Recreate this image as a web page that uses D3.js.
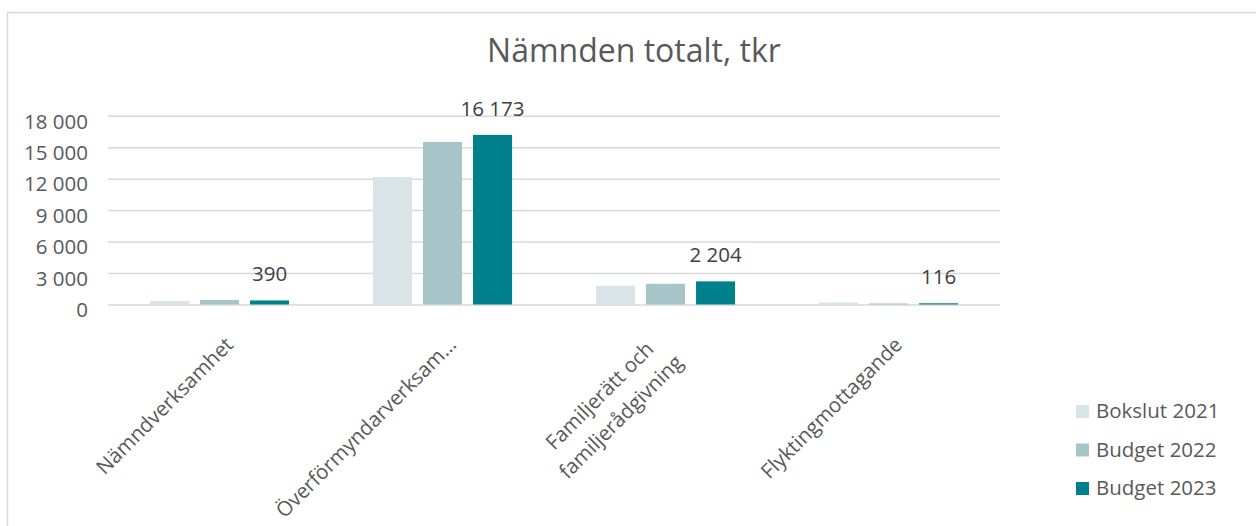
<!DOCTYPE html>
<html>
<head>
<meta charset="utf-8">
<script src="https://cdn.jsdelivr.net/npm/d3@7"></script>
<style>
  html, body { margin: 0; padding: 0; background: #fff; }
  svg { display: block; font-family: "Open Sans", sans-serif; }
</style>
</head>
<body>
<svg id="chart" width="1256" height="526"></svg>
<script>
const title = "Nämnden totalt, tkr";
const categories = ["Nämndverksamhet", "Överförmyndarverksam…", "Familjerätt och\nfamiljerådgivning", "Flyktingmottagande"];
const seriesNames = ["Bokslut 2021", "Budget 2022", "Budget 2023"];
const bokslut2021 = [330, 12150, 1780, 190];
const budget2022 = [430, 15500, 1970, 100];
const budget2023 = [390, 16173, 2204, 116];
const yTicks = [0, 3000, 6000, 9000, 12000, 15000, 18000];
const colors = ["#d9e4e8", "#a7c4c8", "#00808c"];

const seriesValues = [bokslut2021, budget2022, budget2023];
const svg = d3.select("#chart");
const textColor = "#595959";
const gridColor = "#d9d9d9";

// outer border
svg.append("rect")
  .attr("x", 7.5).attr("y", 12.5)
  .attr("width", 1300).attr("height", 600)
  .attr("fill", "none").attr("stroke", gridColor).attr("stroke-width", 1.5);

// title
svg.append("text")
  .attr("x", 634).attr("y", 62)
  .attr("text-anchor", "middle")
  .attr("fill", textColor)
  .attr("font-size", 32)
  .text(title);

const x0 = d3.scaleBand().domain(categories).range([108, 1000]).padding(0);
const bw = x0.bandwidth();
const x1 = d3.scaleBand().domain(seriesNames).range([bw * 0.188, bw * 0.812]).paddingInner(0.22).paddingOuter(0);
const y = d3.scaleLinear().domain([0, 18000]).range([304.5, 115.7]);

const fmt = v => d3.format(",")(v).replace(/,/g, " ");

// gridlines + y labels
const yAxis = d3.axisLeft(y).tickValues(yTicks).tickSize(-(1000 - 108)).tickFormat(fmt).tickPadding(20);
const gy = svg.append("g").attr("transform", "translate(108,0)").call(yAxis);
gy.select(".domain").remove();
gy.selectAll(".tick line").attr("stroke", gridColor).attr("stroke-width", 1.5);
gy.selectAll(".tick text")
  .attr("fill", textColor)
  .attr("font-size", 20.5)
  .attr("font-family", "Open Sans, sans-serif")
  .attr("dy", "0.6em");

// bars
const groups = svg.append("g").selectAll("g")
  .data(categories).join("g")
  .attr("transform", d => `translate(${x0(d)},0)`);

groups.selectAll("rect")
  .data((d, i) => seriesNames.map((s, j) => ({ s, j, v: seriesValues[j][i] })))
  .join("rect")
  .attr("x", d => x1(d.s))
  .attr("width", x1.bandwidth())
  .attr("y", d => y(d.v))
  .attr("height", d => y(0) - y(d.v))
  .attr("fill", d => colors[d.j]);

// data labels (last series)
groups.append("text")
  .attr("x", x1(seriesNames[2]) + x1.bandwidth() / 2)
  .attr("y", (d, i) => y(budget2023[i]) - 19)
  .attr("text-anchor", "middle")
  .attr("fill", "#404040")
  .attr("font-size", 20.5)
  .text((d, i) => fmt(budget2023[i]));

// category labels
const labelG = svg.append("g");
categories.forEach(c => {
  const lines = c.split("\n");
  const cx = x0(c) + bw / 2;
  const g = labelG.append("g")
    .attr("transform", `translate(${cx + 15},346) rotate(-45)`);
  const t = g.append("text")
    .attr("fill", textColor)
    .attr("font-size", 20.5);
  lines.forEach((ln, i) => {
    t.append("tspan").text(ln);
  });
  let maxW = 0;
  t.selectAll("tspan").each(function () { maxW = Math.max(maxW, this.getComputedTextLength()); });
  const n = lines.length;
  const shift = n > 1 ? -10 : 0;
  t.selectAll("tspan")
    .attr("text-anchor", "middle")
    .attr("x", -maxW / 2 + shift)
    .attr("y", (d, i) => (i - (n - 1) / 2) * 30);
});

// legend
const legend = svg.append("g");
seriesNames.forEach((s, i) => {
  const yy = 418 + i * 38.5;
  legend.append("rect")
    .attr("x", 1076).attr("y", yy - 13)
    .attr("width", 13).attr("height", 13)
    .attr("fill", colors[i]);
  legend.append("text")
    .attr("x", 1096).attr("y", yy)
    .attr("fill", textColor)
    .attr("font-size", 20.5)
    .text(s);
});
</script>
</body>
</html>
